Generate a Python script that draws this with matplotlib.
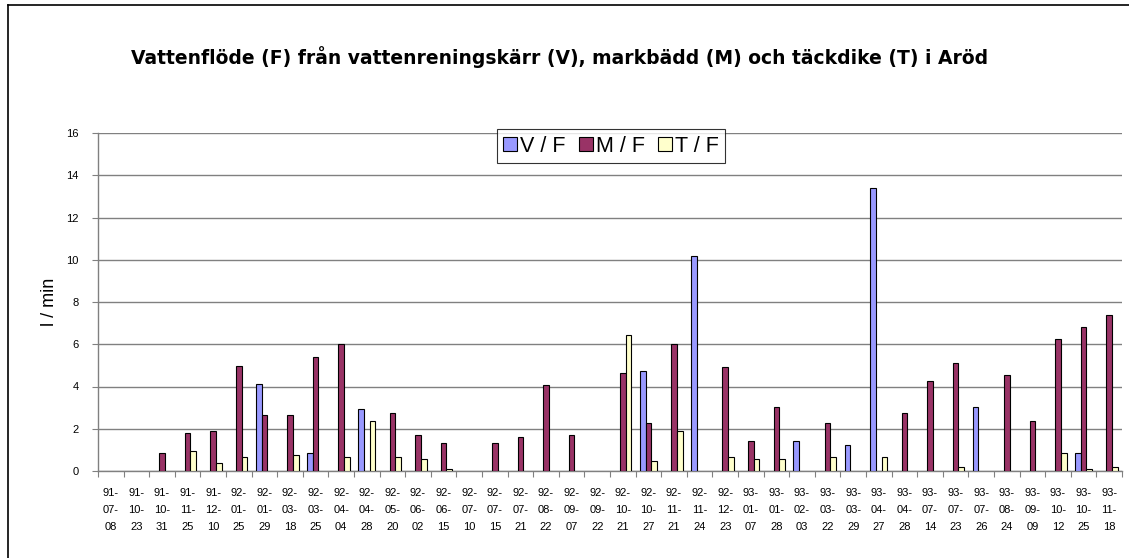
import matplotlib
matplotlib.use("Agg")
import matplotlib.pyplot as plt
import numpy as np
from matplotlib.lines import Line2D
from matplotlib.patches import Patch

plt.rcParams['font.family'] = ['Liberation Sans', 'DejaVu Sans']

dates = ["91-07-08", "91-10-23", "91-10-31", "91-11-25", "91-12-10", "92-01-25", "92-01-29",
         "92-03-18", "92-03-25", "92-04-04", "92-04-28", "92-05-20", "92-06-02", "92-06-15",
         "92-07-10", "92-07-15", "92-07-21", "92-08-22", "92-09-07", "92-09-22", "92-10-21",
         "92-10-27", "92-11-21", "92-11-24", "92-12-23", "93-01-07", "93-01-28", "93-02-03",
         "93-03-22", "93-03-29", "93-04-27", "93-04-28", "93-07-14", "93-07-23", "93-07-26",
         "93-08-24", "93-09-09", "93-10-12", "93-10-25", "93-11-18"]

v_f = [0, 0, 0, 0, 0, 0, 4.1, 0, 0.85, 0, 2.95, 0, 0, 0, 0, 0, 0, 0, 0, 0,
       0, 4.75, 0, 10.2, 0, 0, 0, 1.42, 0, 1.25, 13.4, 0, 0, 0, 3.03, 0, 0, 0, 0.87, 0]
m_f = [0, 0, 0.87, 1.81, 1.9, 4.95, 2.65, 2.65, 5.4, 6.0, 0, 2.76, 1.71, 1.34, 0, 1.34, 1.61, 4.08, 1.71, 0,
       4.66, 2.29, 6.0, 0, 4.94, 1.42, 3.05, 0, 2.27, 0, 0, 2.75, 4.28, 5.13, 0, 4.55, 2.38, 6.26, 6.82, 7.39]
t_f = [0, 0, 0, 0.96, 0.39, 0.68, 0, 0.76, 0, 0.66, 2.38, 0.66, 0.57, 0.08, 0, 0, 0, 0, 0, 0,
       6.45, 0.49, 1.9, 0, 0.68, 0.57, 0.57, 0, 0.68, 0, 0.68, 0, 0, 0.2, 0, 0, 0, 0.87, 0.08, 0.2]

series_names = ["V / F", "M / F", "T / F"]
colors = ["#9999FF", "#993366", "#FFFFCC"]

fig = plt.figure(figsize=(11.29, 5.58), dpi=100)
W, H = 1129, 558
ax = fig.add_axes([98 / W, (H - 471) / H, 1024 / W, 338 / H])

x = np.arange(len(dates))
w = 1 / 4.5
for i, (vals, c) in enumerate(zip([v_f, m_f, t_f], colors)):
    vals = np.array(vals, dtype=float)
    mask = vals > 0
    ax.bar(x[mask] + (i - 1) * w, vals[mask], width=w, color=c, edgecolor="black",
           linewidth=0.8, zorder=3)

ax.set_xlim(-0.5, len(dates) - 0.5)
ax.set_ylim(0, 16)
ax.set_yticks(np.arange(0, 17, 2))
ax.yaxis.grid(True, color="#808080", linewidth=1.0, zorder=0)
ax.set_axisbelow(True)
for s in ["top", "right"]:
    ax.spines[s].set_visible(False)
ax.spines["left"].set_color("#808080")
ax.spines["bottom"].set_color("#808080")
ax.spines["left"].set_linewidth(1.0)
ax.spines["bottom"].set_linewidth(1.0)
ax.tick_params(axis="y", labelsize=8, length=4, color="#808080", pad=10)

# x ticks at category boundaries, labels at centers
ax.set_xticks(np.arange(-0.5, len(dates), 1.0))
ax.set_xticklabels([])
ax.tick_params(axis="x", which="major", length=4, color="#808080")
ax.set_xticks(x, minor=True)
labels = ["{}-\n{}-\n{}".format(*d.split("-")) for d in dates]
ax.set_xticklabels(labels, minor=True, fontsize=8, linespacing=1.88)
ax.tick_params(axis="x", which="minor", length=0, pad=12)

ax.set_ylabel("l / min", fontsize=13)
ax.yaxis.set_label_coords((58 - 98) / 1024, 0.5)

fig.text(560 / W, 1 - 57 / H, "Vattenflöde (F) från vattenreningskärr (V), markbädd (M) och täckdike (T) i Aröd",
         ha="center", va="center", fontsize=13.5, fontweight="bold", family="DejaVu Sans")

handles = [Patch(facecolor=c, edgecolor="black", linewidth=0.8) for c in colors]
leg = fig.legend(handles, series_names, loc="center", bbox_to_anchor=(611 / W, 1 - 146 / H),
                 ncol=3, fontsize=15.5, frameon=True, fancybox=False, handlelength=0.65,
                 handleheight=0.65, handletextpad=0.15, columnspacing=0.6, borderpad=0.3,
                 borderaxespad=0)
leg.get_frame().set_edgecolor("black")
leg.get_frame().set_linewidth(0.8)

# outer chart frame
fig.add_artist(Line2D([8 / W, 1.0], [1 - 5 / H, 1 - 5 / H], color="black", linewidth=1.2,
                      transform=fig.transFigure))
fig.add_artist(Line2D([8 / W, 8 / W], [1 - 5 / H, 0], color="black", linewidth=1.2,
                      transform=fig.transFigure))

fig.savefig("out.png", dpi=100)
